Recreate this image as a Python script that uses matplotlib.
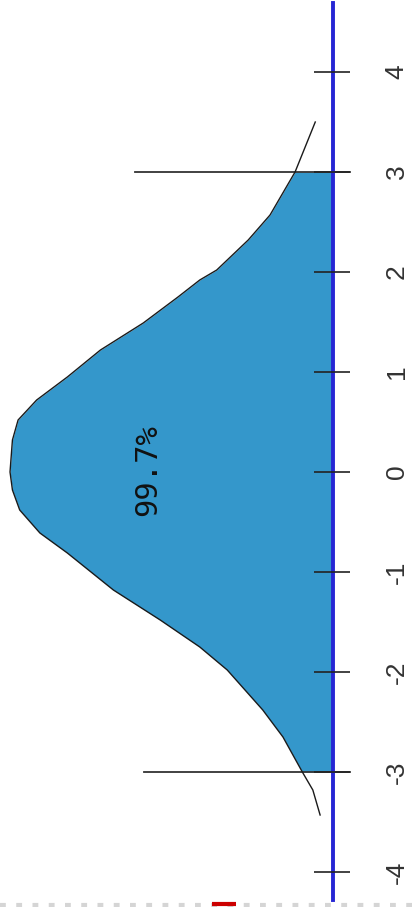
import matplotlib
matplotlib.use('Agg')
import matplotlib.pyplot as plt
from matplotlib.lines import Line2D

# curve: position on the axis (z) and height of the curve
Z = [-3.43, -3.18, -3.00, -2.65, -2.38, -1.98, -1.75, -1.48, -1.18, -0.81,
     -0.61, -0.38, -0.18, 0.00, 0.32, 0.52, 0.72, 0.95, 1.22, 1.49,
     1.75, 1.92, 2.02, 2.32, 2.57, 3.00, 3.50]
DENS = [0.016, 0.025, 0.038, 0.062, 0.087, 0.131, 0.165, 0.214, 0.272, 0.329,
        0.363, 0.388, 0.397, 0.400, 0.397, 0.390, 0.367, 0.329, 0.288, 0.235,
        0.192, 0.165, 0.144, 0.105, 0.078, 0.047, 0.022]
TICKS = [-4, -3, -2, -1, 0, 1, 2, 3, 4]
SHADE = (-3, 3)
CUT_LEN = [0.234, 0.245]  # marker lines at -3 and +3
LABEL = '99.7%'

fig = plt.figure(figsize=(4.12, 9.07), dpi=100)
ax = fig.add_axes([0, 0, 1, 1])
ax.set_xlim(0.4124, -0.0978)   # height grows to the left
ax.set_ylim(-4.35, 4.72)
ax.axis('off')

# shaded area between -3 and +3
zs = [z for z in Z if SHADE[0] <= z <= SHADE[1]]
ds = [d for z, d in zip(Z, DENS) if SHADE[0] <= z <= SHADE[1]]
ax.fill_betweenx(zs, 0, ds, color='#3497cb', lw=0, zorder=1)
ax.plot(DENS, Z, color='#1a1a1a', lw=1.0, zorder=3)

# marker lines at the cut points
for z, ln in zip(SHADE, CUT_LEN):
    ax.plot([ln, -0.021], [z, z], color='#333333', lw=1.3, zorder=2)

# axis line with ticks
ax.plot([0, 0], [-4.28, 4.69], color='#2626d4', lw=2.8, zorder=4)
ax.hlines(TICKS, -0.021, 0.0235, color='#222222', lw=1.2, zorder=5)
for t in TICKS:
    ax.text(-0.079, t, str(t), rotation=90, ha='center', va='center',
            fontsize=19, color='#333333', family='Liberation Sans')

ax.text(0.230, 0.02, LABEL, rotation=90, ha='center', va='center',
        fontsize=22, color='#111111', family='DejaVu Sans Mono')

# dotted strip at the bottom edge
fig.add_artist(Line2D([0, 1], [0.0022, 0.0022], color='#d5d5d5', lw=3,
                      ls=(0, (1.4, 2.5)), transform=fig.transFigure))
fig.add_artist(Line2D([212 / 412, 236 / 412], [0.0033, 0.0033], color='#cc0000',
                      lw=3, solid_capstyle='butt', transform=fig.transFigure))

fig.savefig('out.png', dpi=100)
